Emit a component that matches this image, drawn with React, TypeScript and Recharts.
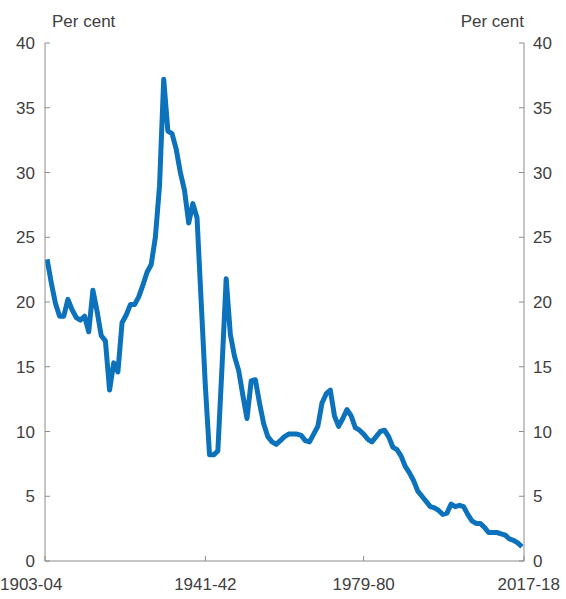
import React from 'react';
import { LineChart, Line, XAxis, YAxis } from 'recharts';

const FIRST_YEAR = 1903;

// Per cent, one value per financial year from 1903-04 to 2017-18
const values = [
  23.3, 21.5, 19.9, 18.9, 18.9, 20.2, 19.4, 18.8, 18.6, 18.9,
  17.7, 20.9, 19.3, 17.4, 17.0, 13.2, 15.3, 14.6, 18.4, 19.0,
  19.8, 19.8, 20.4, 21.3, 22.3, 22.9, 25.0, 29.0, 37.2, 33.2,
  33.0, 31.8, 30.0, 28.6, 26.1, 27.6, 26.5, 20.0, 13.5, 8.2,
  8.2, 8.5, 15.0, 21.8, 17.5, 15.8, 14.7, 12.8, 11.0, 13.9,
  14.0, 12.2, 10.6, 9.6, 9.2, 9.0, 9.3, 9.6, 9.8, 9.8,
  9.8, 9.7, 9.3, 9.2, 9.8, 10.4, 12.2, 12.9, 13.2, 11.2,
  10.4, 11.0, 11.7, 11.2, 10.3, 10.1, 9.8, 9.4, 9.2, 9.6,
  10.0, 10.1, 9.6, 8.8, 8.6, 8.1, 7.3, 6.8, 6.2, 5.4,
  5.0, 4.6, 4.2, 4.1, 3.9, 3.6, 3.7, 4.4, 4.2, 4.3,
  4.2, 3.6, 3.1, 2.9, 2.9, 2.6, 2.2, 2.2, 2.2, 2.1,
  2.0, 1.7, 1.6, 1.4, 1.1,
];

// category axis: each year sits in the middle of its slot
const xDomain = [1902.5, 2017.5];
const xTickPos = [1902.5, 1941, 1979, 2017.5];
const xTickLabels = ['1903-04', '1941-42', '1979-80', '2017-18'];
const yTicks = [0, 5, 10, 15, 20, 25, 30, 35, 40];
const unitLabel = 'Per cent';

const data = values.map((v, i) => ({ year: FIRST_YEAR + i, value: v }));

const AXIS = '#8c8c8c';
const TEXT = '#404040';
const FONT = 'Arial, "Liberation Sans", sans-serif';
const FS = 17;
const tickStyle = { fill: TEXT, fontSize: FS, fontFamily: FONT };

const XTick = (props: any) => {
  const { x, y, index } = props;
  let anchor: any = 'middle';
  let dx = 0;
  if (index === 0) {
    anchor = 'start';
    dx = -45;
  } else if (index === xTickLabels.length - 1) {
    anchor = 'end';
    dx = 36;
  }
  return (
    <text x={x + dx} y={y} dy="0.71em" textAnchor={anchor} fill={TEXT} fontSize={FS} fontFamily={FONT}>
      {xTickLabels[index]}
    </text>
  );
};

export default function App() {
  return (
    <div style={{ position: 'absolute', left: 0, top: 0, width: 566, height: 599, background: '#fff' }}>
      <div style={{ position: 'absolute', left: 52, top: 12, fontSize: FS, fontFamily: FONT, color: TEXT }}>
        {unitLabel}
      </div>
      <div style={{ position: 'absolute', right: 42, top: 12, fontSize: FS, fontFamily: FONT, color: TEXT }}>
        {unitLabel}
      </div>
      <LineChart width={566} height={599} data={data} margin={{ top: 43, right: 0, bottom: 0, left: 0 }}>
        <XAxis
          dataKey="year"
          type="number"
          domain={xDomain}
          allowDataOverflow
          ticks={xTickPos}
          height={38}
          tickSize={-5}
          tickMargin={22}
          tick={<XTick />}
          stroke={AXIS}
          interval={0}
        />
        <YAxis
          yAxisId="left"
          orientation="left"
          domain={[0, 40]}
          ticks={yTicks}
          width={45}
          tickSize={-5}
          tickMargin={15}
          tick={tickStyle}
          stroke={AXIS}
          interval={0}
        />
        <YAxis
          yAxisId="right"
          orientation="right"
          domain={[0, 40]}
          ticks={yTicks}
          width={42}
          tickSize={-5}
          tickMargin={14}
          tick={tickStyle}
          stroke={AXIS}
          interval={0}
        />
        <Line
          yAxisId="left"
          type="linear"
          dataKey="value"
          stroke="#0b72bb"
          strokeWidth={5}
          dot={false}
          strokeLinejoin="round"
          isAnimationActive={false}
        />
        <Line
          yAxisId="right"
          type="linear"
          dataKey="value"
          stroke="none"
          dot={false}
          activeDot={false}
          legendType="none"
          isAnimationActive={false}
        />
      </LineChart>
    </div>
  );
}
